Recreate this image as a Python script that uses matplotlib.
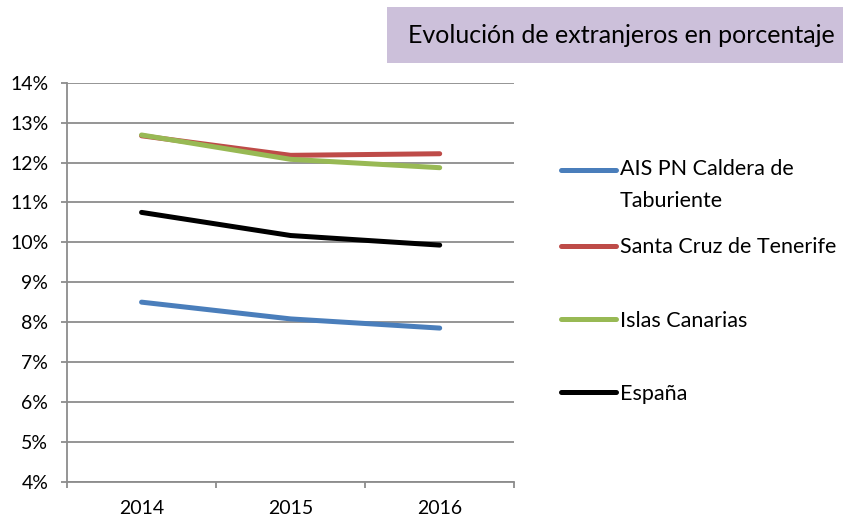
import matplotlib.pyplot as plt
from matplotlib.patches import Rectangle
from matplotlib.ticker import FixedLocator, FuncFormatter
from matplotlib.legend_handler import HandlerLine2D

plt.rcParams['font.family'] = ['Lato', 'DejaVu Sans']

years = ['2014', '2015', '2016']
ais = [8.50, 8.08, 7.85]
santa_cruz = [12.67, 12.18, 12.22]
canarias = [12.69, 12.08, 11.87]
espana = [10.75, 10.17, 9.93]

series = [
    ('AIS PN Caldera de\nTaburiente', ais, '#4A7EBB'),
    ('Santa Cruz de Tenerife', santa_cruz, '#BE4B48'),
    ('Islas Canarias', canarias, '#98B954'),
    ('España', espana, '#000000'),
]


class PrimeraLinea(HandlerLine2D):
    # sube la linea de la leyenda hasta la primera linea del texto
    def __init__(self, dy, **kw):
        super().__init__(**kw)
        self.dy = dy

    def create_artists(self, legend, orig_handle, xdescent, ydescent, width, height,
                       fontsize, trans):
        return super().create_artists(legend, orig_handle, xdescent, ydescent - 2 * self.dy,
                                      width, height, fontsize, trans)


fig = plt.figure(figsize=(8.43, 5.17), dpi=100)
ax = fig.add_axes([0.0795, 0.0683, 0.5305, 0.7717])

x = list(range(len(years)))
lineas = []
for nombre, vals, col in series:
    l, = ax.plot(x, vals, color=col, lw=3.6, solid_capstyle='round', label=nombre)
    lineas.append(l)

gris = '#8C8C8C'
ax.set_xlim(-0.5, len(years) - 0.5)
ax.set_ylim(4, 14)
ax.set_yticks(range(4, 15))
ax.yaxis.set_major_formatter(FuncFormatter(lambda v, p: '%d%%' % v))
ax.yaxis.grid(True, color=gris, lw=1.3)
ax.set_axisbelow(True)

ax.xaxis.set_major_locator(FixedLocator([i - 0.5 for i in range(len(years) + 1)]))
ax.xaxis.set_major_formatter(FuncFormatter(lambda v, p: ''))
ax.xaxis.set_minor_locator(FixedLocator(x))
ax.set_xticklabels(years, minor=True)
ax.tick_params(axis='x', which='major', length=4.5, width=1.3, color=gris)
ax.tick_params(axis='x', which='minor', length=0, pad=13, labelsize=14)
ax.tick_params(axis='y', length=4.5, width=1.3, color=gris, pad=9, labelsize=14)

for s in ['top', 'right']:
    ax.spines[s].set_visible(False)
for s in ['left', 'bottom']:
    ax.spines[s].set_color(gris)
    ax.spines[s].set_linewidth(1.3)

opts = dict(frameon=False, fontsize=15.5, handlelength=2.55, handletextpad=0.15,
            borderaxespad=0, borderpad=0, bbox_transform=fig.transFigure)
leg1 = ax.legend(handles=lineas[:1], loc='center left', bbox_to_anchor=(0.666, 0.642),
                 handler_map={lineas[0]: PrimeraLinea(11.5)}, **opts)
leg1.get_texts()[0].set_linespacing(1.7)
ax.add_artist(leg1)
ax.legend(handles=lineas[1:], loc='center left', bbox_to_anchor=(0.666, 0.380),
          labelspacing=2.48, **opts)

# caja del titulo
fig.patches.append(Rectangle((0.459, 0.878), 0.541, 0.108, transform=fig.transFigure,
                             facecolor='#CCC0DA', edgecolor='none'))
fig.text(0.737, 0.932, 'Evolución de extranjeros en porcentaje', fontsize=18,
         ha='center', va='center')

fig.savefig('out.png', dpi=100)
